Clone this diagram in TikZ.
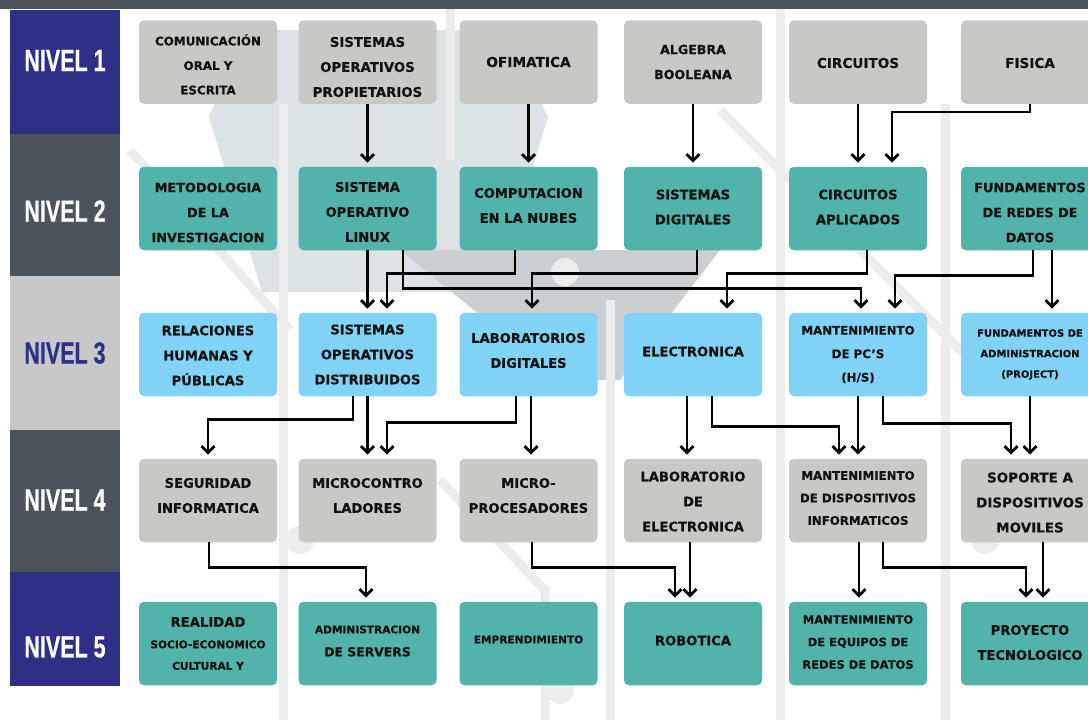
\documentclass[tikz,border=0pt]{standalone}
\usepackage{fontspec}
\setmainfont{DejaVu Sans}[BoldFeatures={FakeBold=0.4}]
\newfontfamily\nivfont{Liberation Sans}[BoldFeatures={FakeBold=0.6}]
\usetikzlibrary{arrows.meta,calc}
\definecolor{navyband}{HTML}{2E3087}
\definecolor{slateband}{HTML}{4C535B}
\definecolor{lightband}{HTML}{C8C8C8}
\definecolor{graybox}{HTML}{C8C8C7}
\definecolor{tealbox}{HTML}{52B3AB}
\definecolor{bluebox}{HTML}{81D3F6}
\definecolor{bgline}{HTML}{ECECEC}
\definecolor{bghex}{HTML}{DDE2E5}
\definecolor{bgdark}{HTML}{CBCFD2}
\definecolor{txt}{HTML}{111111}
\newcommand\fs[2]{\bfseries\fontsize{#1}{#2}\selectfont}
\newcommand\mybox[6]{%
  \node[#1] (#2) at (#3) {};
  \node[lbl,#4] (#2t) at ($(#2.center)+(0,#5)$) {#6};}
\begin{document}
\begin{tikzpicture}[x=1pt,y=-1pt,
  cbox/.style={rounded corners=5pt, minimum width=138pt, minimum height=83.5pt, inner sep=0pt},
  grbox/.style={cbox, fill=graybox},
  tlbox/.style={cbox, fill=tealbox},
  blbox/.style={cbox, fill=bluebox},
  lbl/.style={inner sep=0pt, align=center, text=txt, font=\fs{13.1}{25}},
  nivlab/.style={inner sep=0pt, font=\nivfont\bfseries\fontsize{30.7}{30}\selectfont},
  arr/.style={line width=2.8pt, shorten >=4pt,
    -{Straight Barb[length=6.5pt,width=13pt]}},
  bgl/.style={draw=bgline, line width=9pt},
]
\useasboundingbox (0,0) rectangle (1088,720);
\fill[white] (0,0) rectangle (1088,720);
% background decoration
\fill[bghex] (209,117) -- (245,30) -- (505,30) -- (548,117) -- (495,292) -- (262,292) -- cycle;
\fill[bgdark] (400,250) -- (720,250) -- (620,380) -- (560,380) -- cycle;
\draw[bgl] (283,104) -- (283,720);
\draw[bgl] (450,0) -- (450,160);
\draw[bgl] (610,300) -- (610,720);
\draw[bgl] (780,0) -- (780,720);
\draw[bgl] (945,104) -- (945,720);
\draw[bgl] (130,150) -- (290,330);
\draw[bgl] (440,480) -- (545,590) -- (545,720);
\draw[bgl] (720,110) -- (1000,390);
\fill[bgline] (300,540) circle (14pt);
\fill[bgline] (565,272) circle (14pt);
\fill[bgline] (560,690) circle (14pt);
\fill[bgline] (985,540) circle (14pt);
% top strip and level bands
\fill[slateband] (0,0) rectangle (1088,9);
\fill[navyband] (10,9.5) rectangle (120,134);
\fill[slateband] (10,134) rectangle (120,276);
\fill[lightband] (10,276) rectangle (120,430);
\fill[slateband] (10,430) rectangle (120,572);
\fill[navyband] (10,572) rectangle (120,686);
\node[nivlab, text=white] (l1) at (65,60.5) {\scalebox{0.7}[1]{NIVEL 1}};
\node[nivlab, text=white] (l2) at (65,211) {\scalebox{0.7}[1]{NIVEL 2}};
\node[nivlab, text=navyband] (l3) at (65,353) {\scalebox{0.7}[1]{NIVEL 3}};
\node[nivlab, text=white] (l4) at (65,500) {\scalebox{0.7}[1]{NIVEL 4}};
\node[nivlab, text=white] (l5) at (65,647) {\scalebox{0.7}[1]{NIVEL 5}};
% row 1
\mybox{grbox}{n11}{208,62}{font=\fs{11.9}{24.5}}{2.5}{COMUNICACIÓN\\ORAL Y\\ESCRITA}
\mybox{grbox}{n12}{367.5,62}{font=\fs{13.3}{25}}{5}{SISTEMAS\\OPERATIVOS\\PROPIETARIOS}
\mybox{grbox}{n13}{528.5,62}{font=\fs{13.7}{25}}{0}{OFIMATICA}
\mybox{grbox}{n14}{693,62}{font=\fs{12.6}{25}}{0}{ALGEBRA\\BOOLEANA}
\mybox{grbox}{n15}{858,62}{font=\fs{13.6}{25}}{1}{CIRCUITOS}
\mybox{grbox}{n16}{1030,62}{font=\fs{13.6}{25}}{1}{FISICA}
% row 2
\mybox{tlbox}{n21}{208,208.5}{font=\fs{12.8}{25}}{4}{METODOLOGIA\\DE LA\\INVESTIGACION}
\mybox{tlbox}{n22}{367.5,208.5}{}{3.5}{SISTEMA\\OPERATIVO\\LINUX}
\mybox{tlbox}{n23}{528.5,208.5}{}{-3}{COMPUTACION\\EN LA NUBES}
\mybox{tlbox}{n24}{693,208.5}{}{-1.5}{SISTEMAS\\DIGITALES}
\mybox{tlbox}{n25}{858,208.5}{}{-1.5}{CIRCUITOS\\APLICADOS}
\mybox{tlbox}{n26}{1030,208.5}{font=\fs{12.8}{25}}{4}{FUNDAMENTOS\\DE REDES DE\\DATOS}
% row 3
\mybox{blbox}{n31}{208,354.5}{}{1}{RELACIONES\\HUMANAS Y\\PÚBLICAS}
\mybox{blbox}{n32}{367.5,354.5}{}{0}{SISTEMAS\\OPERATIVOS\\DISTRIBUIDOS}
\mybox{blbox}{n33}{528.5,354.5}{}{-4}{LABORATORIOS\\DIGITALES}
\mybox{blbox}{n34}{693,354.5}{}{-3}{ELECTRONICA}
\mybox{blbox}{n35}{858,354.5}{font=\fs{11.8}{23.5}}{0}{MANTENIMIENTO\\DE PC’S\\(H/S)}
\mybox{blbox}{n36}{1030,354.5}{font=\fs{10}{20.5}}{0}{FUNDAMENTOS DE\\ADMINISTRACION\\(PROJECT)}
% row 4
\mybox{grbox}{n41}{208,500.5}{}{-5}{SEGURIDAD\\INFORMATICA}
\mybox{grbox}{n42}{367.5,500.5}{}{-5}{MICROCONTRO\\LADORES}
\mybox{grbox}{n43}{528.5,500.5}{}{-5}{MICRO-\\PROCESADORES}
\mybox{grbox}{n44}{693,500.5}{}{1}{LABORATORIO\\DE\\ELECTRONICA}
\mybox{grbox}{n45}{858,500.5}{font=\fs{11.8}{22.5}}{-2.5}{MANTENIMIENTO\\DE DISPOSITIVOS\\INFORMATICOS}
\mybox{grbox}{n46}{1030,500.5}{font=\fs{13.5}{25}}{2}{SOPORTE A\\DISPOSITIVOS\\MOVILES}
% row 5
\mybox{tlbox}{n51}{208,643.5}{font=\fs{10.6}{21.5}}{0}{{\fontsize{13.2}{21.5}\selectfont REALIDAD}\\SOCIO-ECONOMICO\\CULTURAL Y}
\mybox{tlbox}{n52}{367.5,643.5}{font=\fs{12.4}{23}}{-2.5}{{\fontsize{10.6}{23}\selectfont ADMINISTRACION}\\DE SERVERS}
\mybox{tlbox}{n53}{528.5,643.5}{font=\fs{10.6}{22}}{-4}{EMPRENDIMIENTO}
\mybox{tlbox}{n54}{693,643.5}{}{-3}{ROBOTICA}
\mybox{tlbox}{n55}{858,643.5}{font=\fs{11.5}{22.5}}{-1.5}{MANTENIMIENTO\\DE EQUIPOS DE\\REDES DE DATOS}
\mybox{tlbox}{n56}{1030,643.5}{}{-1}{PROYECTO\\TECNOLOGICO}
% connectors row 1 -> row 2
\draw[arr] (n12.south) -- (n22.north);
\draw[arr] (n13.south) -- (n23.north);
\draw[arr] (n14.south) -- (n24.north);
\draw[arr] (n15.south) -- (n25.north);
\draw[arr] (n16.south) -- ++(0,8) -| ([xshift=34pt]n25.north);
% row 2 -> row 3
\draw[arr] (n22.south) -- (n32.north);
\draw[arr] ([xshift=-13.5pt]n23.south) -- ++(0,23) -| ([xshift=19.5pt]n32.north);
\draw[arr] ([xshift=35.5pt]n22.south) -- ++(0,38) -| ([xshift=3pt]n35.north);
\draw[arr] ([xshift=4pt]n24.south) -- ++(0,23) -| ([xshift=3.5pt]n33.north);
\draw[arr] ([xshift=9pt]n25.south) -- ++(0,23) -| ([xshift=34pt]n34.north);
\draw[arr] ([xshift=3pt]n26.south) -- ++(0,25) -| ([xshift=37pt]n35.north);
\draw[arr] ([xshift=22pt]n26.south) -- ([xshift=22pt]n36.north);
% row 3 -> row 4
\draw[arr] ([xshift=-14.5pt]n32.south) -- ++(0,23) -| (n41.north);
\draw[arr] (n32.south) -- (n42.north);
\draw[arr] ([xshift=-12.5pt]n33.south) -- ++(0,26) -| ([xshift=19.5pt]n42.north);
\draw[arr] ([xshift=2.5pt]n33.south) -- ([xshift=2.5pt]n43.north);
\draw[arr] ([xshift=-6pt]n34.south) -- ([xshift=-6pt]n44.north);
\draw[arr] ([xshift=19pt]n34.south) -- ++(0,30) -| ([xshift=-19pt]n45.north);
\draw[arr] (n35.south) -- (n45.north);
\draw[arr] ([xshift=25pt]n35.south) -- ++(0,27) -| ([xshift=-19pt]n46.north);
\draw[arr] (n36.south) -- (n46.north);
% row 4 -> row 5
\draw[arr] ([xshift=1pt]n41.south) -- ++(0,25) -| ([xshift=-1.5pt]n52.north);
\draw[arr] ([xshift=3.5pt]n43.south) -- ++(0,25) -| ([xshift=-18pt]n54.north);
\draw[arr] ([xshift=-3pt]n44.south) -- ([xshift=-3pt]n54.north);
\draw[arr] ([xshift=1pt]n45.south) -- ([xshift=1pt]n55.north);
\draw[arr] ([xshift=25pt]n45.south) -- ++(0,25) -| ([xshift=-4pt]n56.north);
\draw[arr] ([xshift=13pt]n46.south) -- ([xshift=13pt]n56.north);
\end{tikzpicture}
\end{document}
